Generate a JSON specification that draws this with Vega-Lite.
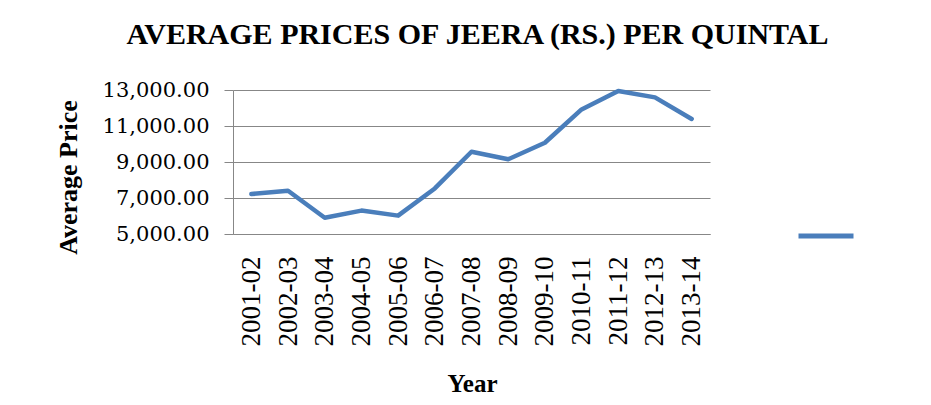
{
  "$schema": "https://vega.github.io/schema/vega-lite/v6.json",
  "autosize": {"type": "none"},
  "width": 477,
  "height": 144,
  "padding": {"left": 233, "top": 90, "right": 221, "bottom": 171},
  "background": "white",
  "title": {
    "text": "AVERAGE PRICES OF JEERA (RS.) PER QUINTAL",
    "font": "Liberation Serif",
    "fontSize": 30,
    "fontWeight": "bold",
    "color": "#000000",
    "frame": "group",
    "anchor": "middle",
    "baseline": "alphabetic",
    "offset": 5,
    "dx": 6
  },
  "data": {
    "values": [
      {"year": "2001-02", "price": 7220, "series": "Average Price"},
      {"year": "2002-03", "price": 7400, "series": "Average Price"},
      {"year": "2003-04", "price": 5900, "series": "Average Price"},
      {"year": "2004-05", "price": 6300, "series": "Average Price"},
      {"year": "2005-06", "price": 6020, "series": "Average Price"},
      {"year": "2006-07", "price": 7530, "series": "Average Price"},
      {"year": "2007-08", "price": 9570, "series": "Average Price"},
      {"year": "2008-09", "price": 9150, "series": "Average Price"},
      {"year": "2009-10", "price": 10070, "series": "Average Price"},
      {"year": "2010-11", "price": 11920, "series": "Average Price"},
      {"year": "2011-12", "price": 12940, "series": "Average Price"},
      {"year": "2012-13", "price": 12590, "series": "Average Price"},
      {"year": "2013-14", "price": 11390, "series": "Average Price"}
    ]
  },
  "mark": {"type": "line", "strokeWidth": 4.5, "strokeCap": "round", "strokeJoin": "round"},
  "encoding": {
    "x": {
      "field": "year",
      "type": "ordinal",
      "scale": {"paddingOuter": 0.5},
      "axis": {
        "title": "Year",
        "labelAngle": -90,
        "labelFont": "Liberation Serif",
        "labelFontSize": 27,
        "labelColor": "#000000",
        "labelPadding": 22,
        "ticks": false,
        "tickSize": 0,
        "domainColor": "#878787",
        "grid": false,
        "titleFont": "Liberation Serif",
        "titleFontSize": 25,
        "titleFontWeight": "bold",
        "titleColor": "#000000",
        "titleX": 239,
        "titleY": 157,
        "titleBaseline": "alphabetic",
        "titleAnchor": "middle"
      }
    },
    "y": {
      "field": "price",
      "type": "quantitative",
      "scale": {"domain": [5000, 13000], "nice": false, "zero": false},
      "axis": {
        "title": "Average Price",
        "values": [5000, 7000, 9000, 11000, 13000],
        "format": ",.2f",
        "labelFont": "DejaVu Serif",
        "labelFontSize": 21,
        "labelColor": "#000000",
        "labelPadding": 15,
        "tickSize": 9,
        "tickColor": "#878787",
        "domainColor": "#878787",
        "gridColor": "#878787",
        "gridOpacity": 1,
        "titleFont": "Liberation Serif",
        "titleFontSize": 26,
        "titleFontWeight": "bold",
        "titleColor": "#000000",
        "titleAngle": -90,
        "titleX": -157,
        "titleY": 87,
        "titleBaseline": "alphabetic",
        "titleAnchor": "middle"
      }
    },
    "color": {
      "field": "series",
      "type": "nominal",
      "scale": {"range": ["#4a7ebb"]},
      "legend": {
        "title": null,
        "orient": "none",
        "legendX": 563,
        "legendY": 116,
        "padding": 0,
        "symbolType": "stroke",
        "symbolSize": 3025,
        "symbolStrokeWidth": 5,
        "labelExpr": "''",
        "labelFontSize": 1
      }
    }
  },
  "config": {
    "view": {"stroke": null}
  }
}
